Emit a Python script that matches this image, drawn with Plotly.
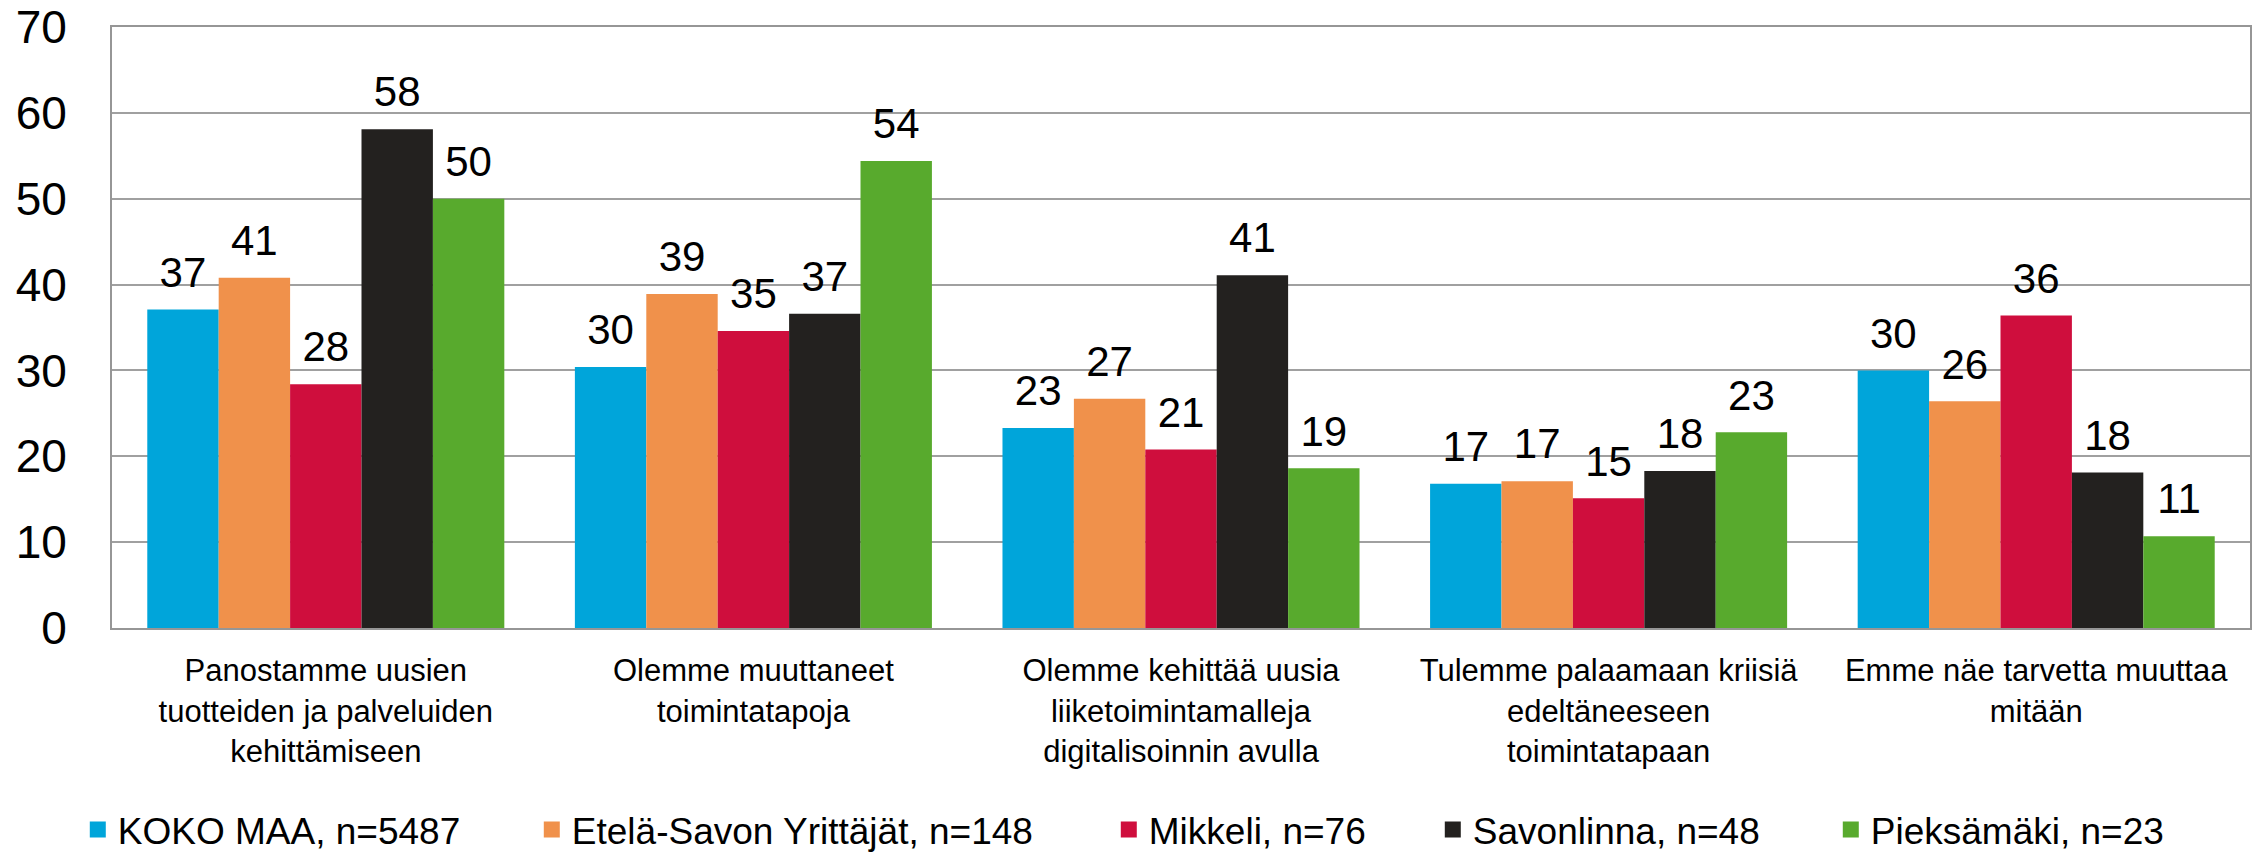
import plotly.graph_objects as go

categories = [
    "Panostamme uusien<br>tuotteiden ja palveluiden<br>kehittämiseen",
    "Olemme muuttaneet<br>toimintatapoja",
    "Olemme kehittää uusia<br>liiketoimintamalleja<br>digitalisoinnin avulla",
    "Tulemme palaamaan kriisiä<br>edeltäneeseen<br>toimintatapaan",
    "Emme näe tarvetta muuttaa<br>mitään",
]

series_names = [
    "KOKO MAA, n=5487",
    "Etelä-Savon Yrittäjät, n=148",
    "Mikkeli, n=76",
    "Savonlinna, n=48",
    "Pieksämäki, n=23",
]

koko_maa = [37.1, 30.4, 23.3, 16.8, 30.0]
etela_savo = [40.8, 38.9, 26.7, 17.1, 26.4]
mikkeli = [28.4, 34.6, 20.8, 15.1, 36.4]
savonlinna = [58.1, 36.6, 41.1, 18.3, 18.1]
pieksamaki = [50.0, 54.4, 18.6, 22.8, 10.7]

series_values = [koko_maa, etela_savo, mikkeli, savonlinna, pieksamaki]
colors = ["#00A5DA", "#F0914B", "#CF0E3D", "#23211F", "#58AA2D"]
legend_widths = [409, 532, 279, 353, 300]

FONT = "Liberation Sans, Arial, sans-serif"
BARGAP = 0.165

fig = go.Figure()
for i, (name, vals, col) in enumerate(zip(series_names, series_values, colors)):
    fig.add_trace(go.Bar(
        x=categories, y=vals, name=name, offsetgroup=f"g{i}",
        marker=dict(color=col, line=dict(width=0)),
        showlegend=False, hoverinfo="skip",
    ))

# value labels above the bars (grouped scatter text aligned with the bars)
for i, (name, vals) in enumerate(zip(series_names, series_values)):
    fig.add_trace(go.Scatter(
        x=categories, y=vals, mode="markers+text", name=name,
        offsetgroup=f"g{i}",
        marker=dict(size=18, opacity=0, color="white"),
        texttemplate="%{y:.0f}", textposition="top center",
        textfont=dict(size=42, color="black", family=FONT),
        cliponaxis=False, showlegend=False, hoverinfo="skip",
    ))

# legend entries
for i, (name, col, lw) in enumerate(zip(series_names, colors, legend_widths)):
    fig.add_trace(go.Scatter(
        x=[None], y=[None], mode="markers", name=name,
        offsetgroup=f"g{i}",
        marker=dict(symbol="square", size=16, color=col),
        legendwidth=lw, showlegend=True, hoverinfo="skip",
    ))

fig.update_layout(
    template="none",
    width=2260, height=853,
    margin=dict(l=112, r=10, t=27, b=225, autoexpand=False),
    paper_bgcolor="white", plot_bgcolor="white",
    barmode="group", bargap=BARGAP, bargroupgap=0,
    scattermode="group", scattergap=BARGAP,
    font=dict(family=FONT, color="black"),
    showlegend=True,
    legend=dict(
        orientation="h", x=-0.016, xanchor="left", y=-0.336, yanchor="middle",
        font=dict(size=37, color="black", family=FONT),
        bgcolor="rgba(0,0,0,0)", borderwidth=0, itemwidth=30,
        traceorder="normal",
    ),
)

fig.update_xaxes(
    showline=True, mirror=True, linecolor="#969696", linewidth=2,
    showgrid=False, zeroline=False, ticks="", automargin=False,
    tickfont=dict(size=31, color="black", family=FONT),
    ticklabelstandoff=14,
)
fig.update_yaxes(
    range=[0, 70], dtick=10, tick0=0, automargin=False,
    showline=True, mirror=True, linecolor="#969696", linewidth=2,
    showgrid=True, gridcolor="#a0a0a0", gridwidth=2, zeroline=False,
    ticks="", tickfont=dict(size=46, color="black", family=FONT),
    ticklabelstandoff=34,
)

fig.write_html(
    "out.html",
    config={"displayModeBar": False},
    post_script="document.body.style.margin='0px';",
)
